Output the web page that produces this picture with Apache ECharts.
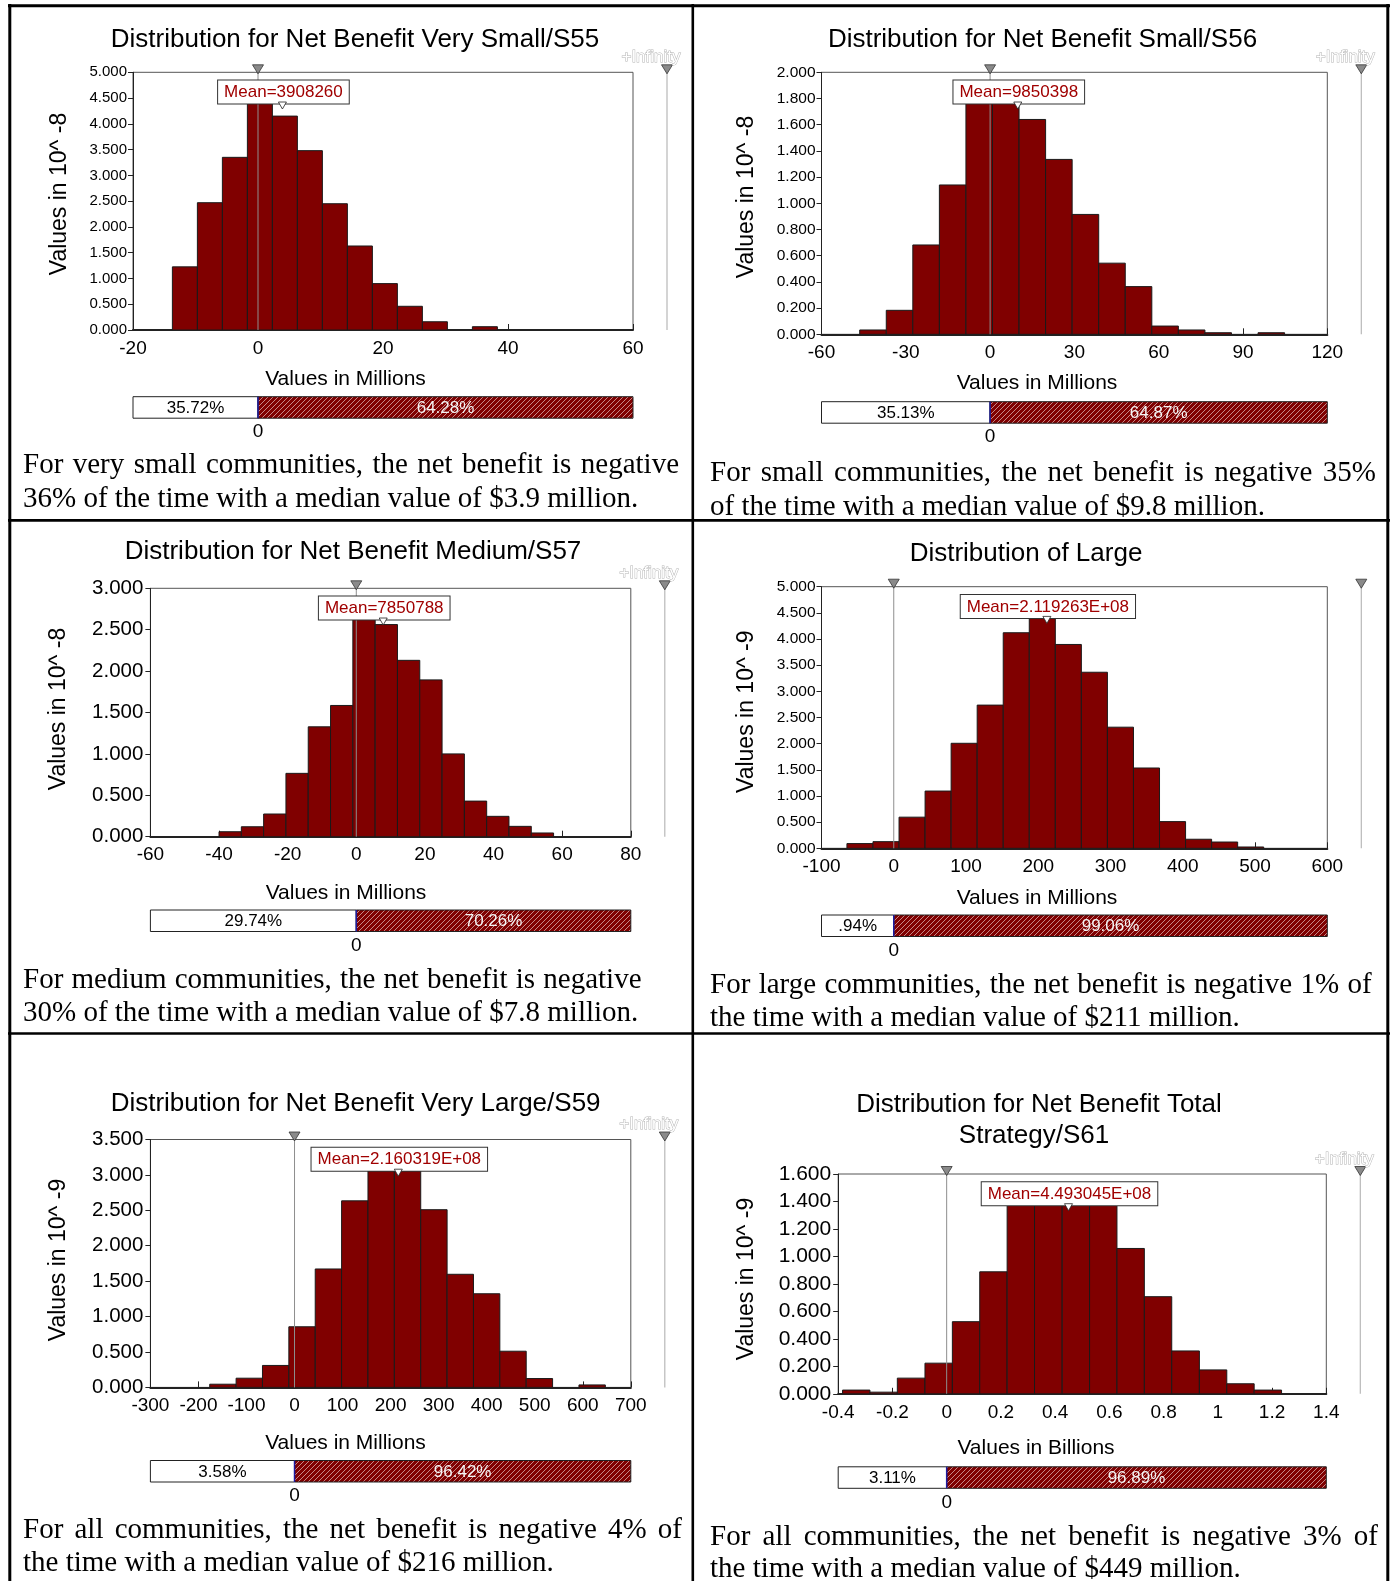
<!DOCTYPE html>
<html><head><meta charset="utf-8">
<script src="https://cdn.jsdelivr.net/npm/echarts/dist/echarts.min.js"></script>
<style>html,body{margin:0;padding:0;background:#fff;}#c{width:1394px;height:1581px;}</style>
</head><body><div id="c"></div>
<script>
// ---------------- DATA ----------------
const panelTitles = [
  ['Distribution for Net Benefit Very Small/S55'],
  ['Distribution for Net Benefit Small/S56'],
  ['Distribution for Net Benefit Medium/S57'],
  ['Distribution of Large'],
  ['Distribution for Net Benefit Very Large/S59'],
  ['Distribution for Net Benefit Total', 'Strategy/S61']
];
const yAxisNames = ['Values in 10^ -8','Values in 10^ -8','Values in 10^ -8','Values in 10^ -9','Values in 10^ -9','Values in 10^ -9'];
const xAxisNames = ['Values in Millions','Values in Millions','Values in Millions','Values in Millions','Values in Millions','Values in Billions'];
const xMin  = [-20, -60, -60, -100, -300, -0.4];
const xMax  = [60, 120, 80, 600, 700, 1.4];
const xStep = [20, 30, 20, 100, 100, 0.2];
const yMax  = [5, 2, 3, 5, 3.5, 1.6];
const yStep = [0.5, 0.2, 0.5, 0.5, 0.5, 0.2];

const binEdges1 = [-13.7,-9.7,-5.7,-1.7,2.3,6.3,10.3,14.3,18.3,22.3,26.3,30.3,34.3,38.3];
const heights1  = [1.225,2.47,3.35,4.45,4.15,3.48,2.45,1.63,0.90,0.46,0.16,0,0.064];
const binEdges2 = [-46.4,-36.95,-27.5,-18.05,-8.6,0.85,10.3,19.75,29.2,38.65,48.1,57.55,67.0,76.45,85.9,95.35,104.8];
const heights2  = [0.033,0.183,0.682,1.14,1.78,1.78,1.64,1.335,0.915,0.543,0.364,0.063,0.033,0.012,0,0.012];
const binEdges3 = [-40,-33.5,-27,-20.5,-14,-7.5,-1,5.5,12,18.5,25,31.5,38,44.5,51,57.5];
const heights3  = [0.06,0.12,0.274,0.765,1.327,1.585,2.65,2.562,2.13,1.894,1.0,0.43,0.246,0.125,0.045];
const binEdges4 = [-64.8,-28.75,7.3,43.35,79.4,115.45,151.5,187.55,223.6,259.65,295.7,331.75,367.8,403.85,439.9,475.95,512.0];
const heights4  = [0.09,0.127,0.595,1.094,2.007,2.737,4.12,4.42,3.896,3.365,2.315,1.535,0.51,0.173,0.12,0.025];
const binEdges5 = [-176.5,-121.6,-66.7,-11.8,43.1,98,152.9,207.8,262.7,317.6,372.5,427.4,482.3,537.2,592.1,647];
const heights5  = [0.045,0.13,0.31,0.856,1.672,2.634,3.09,3.08,2.509,1.597,1.322,0.511,0.125,0,0.035];
const binEdges6 = [-0.384,-0.283,-0.182,-0.080,0.021,0.122,0.223,0.324,0.426,0.527,0.628,0.729,0.830,0.932,1.033,1.134,1.235];
const heights6  = [0.027,0.012,0.114,0.223,0.525,0.888,1.40,1.45,1.45,1.40,1.058,0.707,0.312,0.174,0.073,0.027];

const means      = [3.908260, 9.850398, 7.850788, 211.9263, 216.0319, 0.4493045];
const meanLabels = ['Mean=3908260','Mean=9850398','Mean=7850788','Mean=2.119263E+08','Mean=2.160319E+08','Mean=4.493045E+08'];
const leftPct    = ['35.72%','35.13%','29.74%','.94%','3.58%','3.11%'];
const rightPct   = ['64.28%','64.87%','70.26%','99.06%','96.42%','96.89%'];
const delimiter  = [0, 0, 0, 0, 0, 0];
const infinityLabel = ['+Infinity','+Infinity','+Infinity','','+Infinity','+Infinity'];
const captions = [
  ['For very small communities, the net benefit is negative', '36% of the time with a median value of $3.9 million.'],
  ['For small communities, the net benefit is negative 35%', 'of the time with a median value of $9.8 million.'],
  ['For medium communities, the net benefit is negative', '30% of the time with a median value of $7.8 million.'],
  ['For large communities, the net benefit is negative 1% of', 'the time with a median value of $211 million.'],
  ['For all communities, the net benefit is negative 4% of', 'the time with a median value of $216 million.'],
  ['For all communities, the net benefit is negative 3% of', 'the time with a median value of $449 million.']
];

// ---------------- LAYOUT (pixels) ----------------
const FONT = '"Liberation Sans", Arial, sans-serif';
const SERIF = '"Liberation Serif", "Times New Roman", serif';
const layout = [
  {grid:[133,72.3,500,257.7],   ylf:15,   ylm:6, pbar:396.7, title:[[355,40.3]], yName:[60,194],   xName:[345.5,379.5], cap:[23,465,679,499.5]},
  {grid:[821.5,72.3,505.8,262], ylf:15.5, ylm:6, pbar:401.7, title:[[1042.5,40.3]], yName:[747,197], xName:[1037,383.5], cap:[710,473.7,1376,507]},
  {grid:[150.4,588.3,480.4,248.4], ylf:20.5, ylm:7, pbar:910, title:[[353,552]], yName:[59,709],   xName:[346,893.5], cap:[23,980.3,641.5,1013.7]},
  {grid:[821.5,586.7,505.8,261.6], ylf:15.5, ylm:6, pbar:915, title:[[1026,553.7]], yName:[747,711.7], xName:[1037,898], cap:[710,985.3,1371.6,1018.7]},
  {grid:[150.4,1139.5,480.4,247.9], ylf:20.5, ylm:7, pbar:1460.5, title:[[355.6,1103.8]], yName:[59,1260], xName:[345.5,1443.5], cap:[23,1530,682,1563.5]},
  {grid:[838.2,1174,488.1,219.8], ylf:21, ylm:7, pbar:1466.8, title:[[1039,1105],[1034,1136.3]], yName:[747,1279], xName:[1036,1448.5], cap:[710,1537,1378,1569]}
];

const allEdges = [binEdges1,binEdges2,binEdges3,binEdges4,binEdges5,binEdges6];
const allHeights = [heights1,heights2,heights3,heights4,heights5,heights6];

// hatch pattern
function makeHatch(){
  const c = document.createElement('canvas'); c.width = 5; c.height = 5;
  const g = c.getContext('2d');
  g.fillStyle = '#800000'; g.fillRect(0,0,5,5);
  g.strokeStyle = 'rgba(225,190,190,0.8)'; g.lineWidth = 0.9;
  g.beginPath();
  g.moveTo(0,5); g.lineTo(5,0);
  g.moveTo(-1,1); g.lineTo(1,-1);
  g.moveTo(4,6); g.lineTo(6,4);
  g.stroke();
  return c;
}
const hatch = makeHatch();

const mctx = document.createElement('canvas').getContext('2d');
function txt(text, x, y, font, fill, align, valign, extra){
  const st = Object.assign({text:text, font:font, fill:fill, align:align, textAlign:align,
    verticalAlign:valign, textVerticalAlign:valign}, extra || {});
  return {type:'text', x:x, y:y, style:st, silent:true};
}

const chart = echarts.init(document.getElementById('c'), null, {renderer:'canvas', width:1394, height:1581});
const option = {animation:false, textStyle:{fontFamily:FONT}, grid:[], xAxis:[], yAxis:[], series:[], graphic:{elements:[]}};
const G = option.graphic.elements;

function tri(x, top, fill){
  return {type:'polygon', shape:{points:[[x-5.5,top-7.5],[x+5.5,top-7.5],[x,top+1.5]]},
    style:{fill:fill, stroke:'#333', lineWidth:0.8}};
}

for (let i = 0; i < 6; i++) {
  const L = layout[i];
  option.grid.push({left:L.grid[0], top:L.grid[1], width:L.grid[2], height:L.grid[3], show:true,
    borderColor:'#555', borderWidth:1, backgroundColor:'transparent'});
  option.xAxis.push({gridIndex:i, type:'value', min:xMin[i], max:xMax[i], interval:xStep[i],
    axisLine:{show:true, onZero:false, lineStyle:{color:'#222', width:2}},
    axisTick:{show:true, inside:true, length:6, lineStyle:{color:'#222'}},
    splitLine:{show:false},
    axisLabel:{fontSize:19, color:'#000', margin:9, interval:0, showMinLabel:true, showMaxLabel:true,
      fontFamily:FONT, formatter:v => String(+(+v).toFixed(2))}});
  option.yAxis.push({gridIndex:i, type:'value', min:0, max:yMax[i], interval:yStep[i],
    axisLine:{show:true, onZero:false, lineStyle:{color:'#222', width:1}},
    axisTick:{show:true, length:5, lineStyle:{color:'#222'}},
    splitLine:{show:false},
    axisLabel:{fontSize:L.ylf, color:'#000', margin:L.ylm, fontFamily:FONT, formatter:v => (+v).toFixed(3)}});

  const edges = allEdges[i], hs = allHeights[i];
  const data = hs.map((h,k) => [edges[k], edges[k+1], h]);
  option.series.push({type:'custom', xAxisIndex:i, yAxisIndex:i, data:data, encode:{x:[0,1], y:2},
    silent:true, z:2, clip:true,
    renderItem:(params, api) => {
      const h = api.value(2);
      if (!(h > 0)) return null;
      const a = api.coord([api.value(0), 0]);
      const b = api.coord([api.value(1), h]);
      return {type:'rect', shape:{x:a[0], y:b[1], width:b[0]-a[0], height:a[1]-b[1]},
        style:{fill:'#800000', stroke:'#1a1a1a', lineWidth:1}};
    }});

  // decorations
  option.series.push({type:'custom', xAxisIndex:i, yAxisIndex:i, data:[[delimiter[i], 0]],
    silent:true, z:5, clip:false,
    renderItem:(params, api) => {
      const cs = params.coordSys;
      const top = cs.y, bot = cs.y + cs.height, left = cs.x, right = cs.x + cs.width;
      const x0 = api.coord([api.value(0), 0])[0];
      const mx = api.coord([means[i], 0])[0];
      const xr = right + 34;
      const ch = [];
      ch.push({type:'line', shape:{x1:x0, y1:top, x2:x0, y2:bot}, style:{stroke:'#8e8e8e', lineWidth:1}});
      ch.push(tri(x0, top, '#8a8a8a'));
      ch.push({type:'line', shape:{x1:xr, y1:top, x2:xr, y2:bot}, style:{stroke:'#b8b8b8', lineWidth:1.2}});
      ch.push(tri(xr, top, '#8a8a8a'));
      if (infinityLabel[i]) ch.push(txt(infinityLabel[i], xr-16, top-15, '17px ' + FONT, '#ffffff', 'center', 'middle',
        {stroke:'#b4b4b4', lineWidth:1}));
      const boxTop = top + 8.2;
      ch.push(txt(meanLabels[i], mx + 1, boxTop, '17px ' + FONT, '#a00000', 'center', 'top',
        {backgroundColor:'#fff', borderColor:'#333', borderWidth:1, padding:[3,6,2,6], lineHeight:18}));
      const bb = boxTop + 23.5;
      ch.push({type:'polygon', shape:{points:[[mx-4, bb-2],[mx+4, bb-2],[mx, bb+5]]}, style:{fill:'#fff', stroke:'#222', lineWidth:0.8}});
      // percentage bar
      const pt = layout[i].pbar, ph = 21.5;
      ch.push({type:'rect', shape:{x:left, y:pt, width:x0-left, height:ph}, style:{fill:'#fff', stroke:'#222', lineWidth:1}});
      ch.push({type:'rect', shape:{x:x0, y:pt, width:right-x0, height:ph}, style:{fill:{image:hatch, repeat:'repeat'}, stroke:'#222', lineWidth:1}});
      ch.push({type:'line', shape:{x1:x0, y1:pt, x2:x0, y2:pt+ph}, style:{stroke:'#1c1ca0', lineWidth:1.5}});
      ch.push(txt(leftPct[i], (left + x0)/2, pt + ph/2 + 1, '17px ' + FONT, '#000', 'center', 'middle'));
      ch.push(txt(rightPct[i], (x0 + right)/2, pt + ph/2 + 1, '17px ' + FONT, '#f4f4f4', 'center', 'middle'));
      ch.push(txt('0', x0, pt + ph + 14, '19px ' + FONT, '#000', 'center', 'middle'));
      return {type:'group', children:ch};
    }});

  // titles, axis names
  panelTitles[i].forEach((t, k) => {
    G.push(txt(t, L.title[k][0], L.title[k][1], '26px ' + FONT, '#000', 'center', 'middle'));
  });
  const yn = txt(yAxisNames[i], L.yName[0], L.yName[1], '23px ' + FONT, '#000', 'center', 'middle');
  yn.rotation = Math.PI / 2;
  G.push(yn);
  G.push(txt(xAxisNames[i], L.xName[0], L.xName[1], '21px ' + FONT, '#000', 'center', 'middle'));

  // captions: first line justified, second line natural
  const cf = '29px ' + SERIF;
  mctx.font = cf;
  const words = captions[i][0].split(' ');
  const ws = words.map(w => mctx.measureText(w).width);
  const tot = ws.reduce((a,b) => a+b, 0);
  const gap = (L.cap[2] - L.cap[0] - tot) / (words.length - 1);
  let cx = L.cap[0];
  words.forEach((w, k) => { G.push(txt(w, cx, L.cap[1], cf, '#000', 'left', 'middle')); cx += ws[k] + gap; });
  G.push(txt(captions[i][1], L.cap[0], L.cap[3], cf, '#000', 'left', 'middle'));
}

// table borders
const lineEl = (x1,y1,x2,y2,w) => ({type:'line', shape:{x1:x1,y1:y1,x2:x2,y2:y2}, style:{stroke:'#000', lineWidth:w}, silent:true});
G.push(lineEl(8, 5.7, 1390, 5.7, 3));
G.push(lineEl(9.8, 4, 9.8, 1581, 3));
G.push(lineEl(1387.8, 4, 1387.8, 1581, 3));
G.push(lineEl(692.8, 4, 692.8, 1581, 2.6));
G.push(lineEl(8, 520.4, 1390, 520.4, 2.6));
G.push(lineEl(8, 1033.5, 1390, 1033.5, 2.6));

chart.setOption(option);
</script>
</body></html>
